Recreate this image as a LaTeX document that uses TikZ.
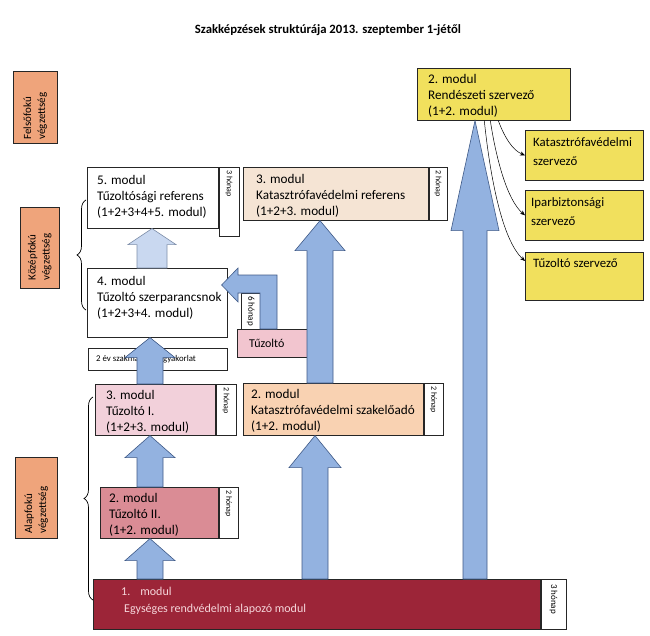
\documentclass[tikz,border=0pt]{standalone}
\usepackage{fontspec}
\setmainfont{Carlito}
\usetikzlibrary{calc,decorations.pathreplacing,arrows.meta}
\definecolor{lvl}{HTML}{EFA47B}
\definecolor{pinkA}{HTML}{F2D0DA}
\definecolor{pinkT}{HTML}{F2C5CF}
\definecolor{roseB}{HTML}{DA8C95}
\definecolor{wine}{HTML}{9C2538}
\definecolor{wineTxt}{HTML}{F6D6DB}
\definecolor{beige}{HTML}{F5E4D4}
\definecolor{peach}{HTML}{F9D2B2}
\definecolor{yel}{HTML}{F1E05D}
\definecolor{arrBlue}{HTML}{93B2E0}
\definecolor{arrLine}{HTML}{3F5A87}
\definecolor{arrLight}{HTML}{C9D8F0}
\definecolor{arrLightLine}{HTML}{7F8FAA}
\pgfdeclarelayer{arr}
\pgfsetlayers{main,arr}
% #2 centre x, #3 from anchor, #4 to anchor, #5 shaft half width, #6 head half width, #7 head length
\newcommand\blockarr[7][barrow]{%
  \path[#1] let \p1=(#3), \p2=(#4) in
    ({#2pt-#5pt},\y1) -- ({#2pt-#5pt},{\y2-#7pt}) -- ({#2pt-#6pt},{\y2-#7pt})
    -- (#2pt,\y2) -- ({#2pt+#6pt},{\y2-#7pt}) -- ({#2pt+#5pt},{\y2-#7pt})
    -- ({#2pt+#5pt},\y1) -- cycle;}
\begin{document}
\begin{tikzpicture}[x=1pt,y=-1pt,
  box/.style={draw=black!85,line width=0.6pt,anchor=north west,inner sep=0pt},
  txt/.style={anchor=north west,align=left,inner sep=0pt,font=\fontsize{13.2}{16}\selectfont},
  sidetxt/.style={anchor=north west,align=left,inner sep=0pt,font=\fontsize{12.8}{19}\selectfont},
  stripbox/.style={draw=black!85,fill=white,line width=0.6pt,anchor=north west,inner sep=0pt},
  striptxt/.style={rotate=-90,anchor=west,inner sep=0pt,font=\fontsize{8}{9}\selectfont},
  lvltxt/.style={rotate=90,anchor=west,align=left,inner sep=0pt,font=\fontsize{11}{14}\selectfont},
  barrow/.style={fill=arrBlue,draw=arrLine,line width=0.6pt,line join=miter},
  larrow/.style={fill=arrLight,draw=arrLightLine,line width=0.6pt,line join=miter},
  linkarr/.style={-{Stealth[length=5pt,width=4pt]},line width=0.5pt},
  curly/.style={decorate,decoration={brace,amplitude=9pt},line width=0.7pt}
]
\useasboundingbox (0,0) rectangle (650,636);
\fill[white] (0,0) rectangle (650,636);

\node[font=\bfseries\fontsize{12.7}{14}\selectfont] (title) at (328,30) {Szakképzések struktúrája 2013. szeptember 1-jétől};

% level boxes
\node[box,fill=lvl,minimum width=44pt,minimum height=72pt] (lf) at (13,71) {};
\node[lvltxt] (lft) at ([yshift=4pt]lf.south) {Felsőfokú\\végzettség};
\node[box,fill=lvl,minimum width=39pt,minimum height=81pt] (lk) at (20,207) {};
\node[lvltxt] (lkt) at ([yshift=8pt]lk.south) {Középfokú\\végzettség};
\node[box,fill=lvl,minimum width=42pt,minimum height=81pt] (la) at (15,457) {};
\node[lvltxt] (lat) at ([yshift=5pt]la.south) {Alapfokú\\végzettség};

% braces
\coordinate (bk1) at (86,310);
\coordinate (bk2) at (86,200);
\draw[curly] (bk1) -- (bk2);
\coordinate (ba1) at (93,600);
\coordinate (ba2) at (93,397);
\draw[curly] (ba1) -- (ba2);

% 5. modul
\node[box,fill=white,minimum width=131pt,minimum height=61pt] (m5) at (87,167) {};
\node[stripbox,minimum width=20pt,minimum height=69pt] (m5s) at (m5.north east) {};
\node[striptxt] (m5st) at ([yshift=-3pt]m5s.north) {3 hónap};
\node[txt] (m5t) at ([xshift=10pt,yshift=-8pt]m5.north west) {5. modul\\Tűzoltósági referens\\(1+2+3+4+5. modul)};

% 4. modul
\node[box,fill=white,minimum width=140pt,minimum height=69pt] (m4) at (87,268) {};
\node[txt] (m4t) at ([xshift=10pt,yshift=-8pt]m4.north west) {4. modul\\Tűzoltó szerparancsnok\\(1+2+3+4. modul)};

% 2 ev szakmai gyakorlat
\node[box,fill=white,minimum width=139pt,minimum height=22pt] (gy) at (88,348) {};
\node[anchor=west,inner sep=0pt,font=\fontsize{8.8}{10}\selectfont] (gyt) at ([xshift=8pt]gy.west) {2 év szakmai\hspace{22pt}gyakorlat};

% 6 honap strip and Tuzolto
\node[stripbox,minimum width=19pt,minimum height=42pt] (s6) at (241,293) {};
\node[striptxt,font=\fontsize{9}{10}\selectfont] (s6t) at ([yshift=-3pt]s6.north) {6 hónap};
\node[box,fill=pinkT,minimum width=73pt,minimum height=28pt] (tz) at (237,329) {};
\node[anchor=west,inner sep=0pt,font=\fontsize{12}{14}\selectfont] (tzt) at ([xshift=12pt]tz.west) {Tűzoltó};

% 3. modul Tuzolto I.
\node[box,fill=pinkA,minimum width=120pt,minimum height=51pt] (m3a) at (95,384) {};
\node[stripbox,minimum width=20pt,minimum height=51pt] (m3as) at (m3a.north east) {};
\node[striptxt] (m3ast) at ([yshift=-3pt]m3as.north) {2 hónap};
\node[txt] (m3at) at ([xshift=11pt,yshift=-6.5pt]m3a.north west) {3. modul\\Tűzoltó I.\\(1+2+3. modul)};

% 2. modul Tuzolto II.
\node[box,fill=roseB,minimum width=118pt,minimum height=51pt] (m2a) at (100,487) {};
\node[stripbox,minimum width=19pt,minimum height=51pt] (m2as) at (m2a.north east) {};
\node[striptxt] (m2ast) at ([yshift=-3pt]m2as.north) {2 hónap};
\node[txt] (m2at) at ([xshift=9pt,yshift=-6pt]m2a.north west) {2. modul\\Tűzoltó II.\\(1+2. modul)};

% 1. modul
\node[box,fill=wine,minimum width=447pt,minimum height=50pt] (m1) at (93,579) {};
\node[stripbox,minimum width=25pt,minimum height=50pt] (m1s) at (m1.north east) {};
\node[striptxt,font=\fontsize{9}{10}\selectfont] (m1st) at ([yshift=-5pt]m1s.north) {3 hónap};
\node[anchor=north west,align=left,inner sep=0pt,text=wineTxt,font=\fontsize{12}{17}\selectfont] (m1t) at ([xshift=28pt,yshift=-8pt]m1.north west) {1.\hspace{10pt}modul\\\hspace{3pt}Egységes rendvédelmi alapozó modul};

% Katasztrofavedelmi referens
\node[box,fill=beige,minimum width=185pt,minimum height=53pt] (k3) at (243,167) {};
\node[stripbox,minimum width=18pt,minimum height=53pt] (k3s) at (k3.north east) {};
\node[striptxt] (k3st) at ([yshift=-3pt]k3s.north) {2 hónap};
\node[txt] (k3t) at ([xshift=13pt,yshift=-7pt]k3.north west) {3. modul\\Katasztrófavédelmi referens\\(1+2+3. modul)};

% Katasztrofavedelmi szakeloado
\node[box,fill=peach,minimum width=180pt,minimum height=52pt] (k2) at (243,383) {};
\node[stripbox,minimum width=19pt,minimum height=52pt] (k2s) at (k2.north east) {};
\node[striptxt] (k2st) at ([yshift=-3pt]k2s.north) {2 hónap};
\node[txt] (k2t) at ([xshift=8pt,yshift=-6.5pt]k2.north west) {2. modul\\Katasztrófavédelmi szakelőadó\\(1+2. modul)};

% yellow boxes
\node[box,fill=yel,minimum width=153pt,minimum height=52pt] (r2) at (417,68) {};
\node[txt] (r2t) at ([xshift=11pt,yshift=-6pt]r2.north west) {2. modul\\Rendészeti szervező\\(1+2. modul)};
\node[box,fill=yel,minimum width=118pt,minimum height=50pt] (rk) at (525,130) {};
\node[sidetxt] (rkt) at ([xshift=8pt,yshift=-7pt]rk.north west) {Katasztrófavédelmi\\szervező};
\node[box,fill=yel,minimum width=118pt,minimum height=50pt] (ri) at (525,190) {};
\node[sidetxt] (rit) at ([xshift=6pt,yshift=-7pt]ri.north west) {Iparbiztonsági\\szervező};
\node[box,fill=yel,minimum width=118pt,minimum height=48pt] (rt) at (525,252) {};
\node[sidetxt] (rtt) at ([xshift=8pt,yshift=-6pt]rt.north west) {Tűzoltó szervező};

\draw[linkarr] ([xshift=4.5pt]r2.south) .. controls (504,136) and (512,150) .. (rk.west);
\draw[linkarr] ([xshift=-3.5pt]r2.south) .. controls (496,158) and (507,200) .. (ri.west);
\draw[linkarr] ([xshift=-9.5pt]r2.south) .. controls (490,176) and (502,240) .. ([yshift=-9pt]rt.north west);

% block arrows
\begin{pgfonlayer}{arr}
\blockarr{150}{m1.north}{m2a.south}{13}{25}{22}
\blockarr{150}{m2a.north}{m3a.south}{13}{25}{22}
\blockarr{150}{m3a.north}{m4.south}{13}{25}{20}
\blockarr[larrow]{152}{m4.north}{m5.south}{15}{24}{16}
\blockarr{315}{m1.north}{k2.south}{13}{26}{32}
\blockarr{320}{k2.north}{k3.south}{13}{25}{30}
\blockarr{475}{m1.north}{r2.south}{12}{24}{110}
\path[barrow] (260,0 |- tz.north) -- (260,293) -- (238,293) -- (238,302)
  -- ([xshift=-6pt]m4.east |- 0,285) -- (238,268) -- (238,275) -- (277,275)
  -- (277,0 |- tz.north) -- cycle;
\end{pgfonlayer}
\end{tikzpicture}
\end{document}
